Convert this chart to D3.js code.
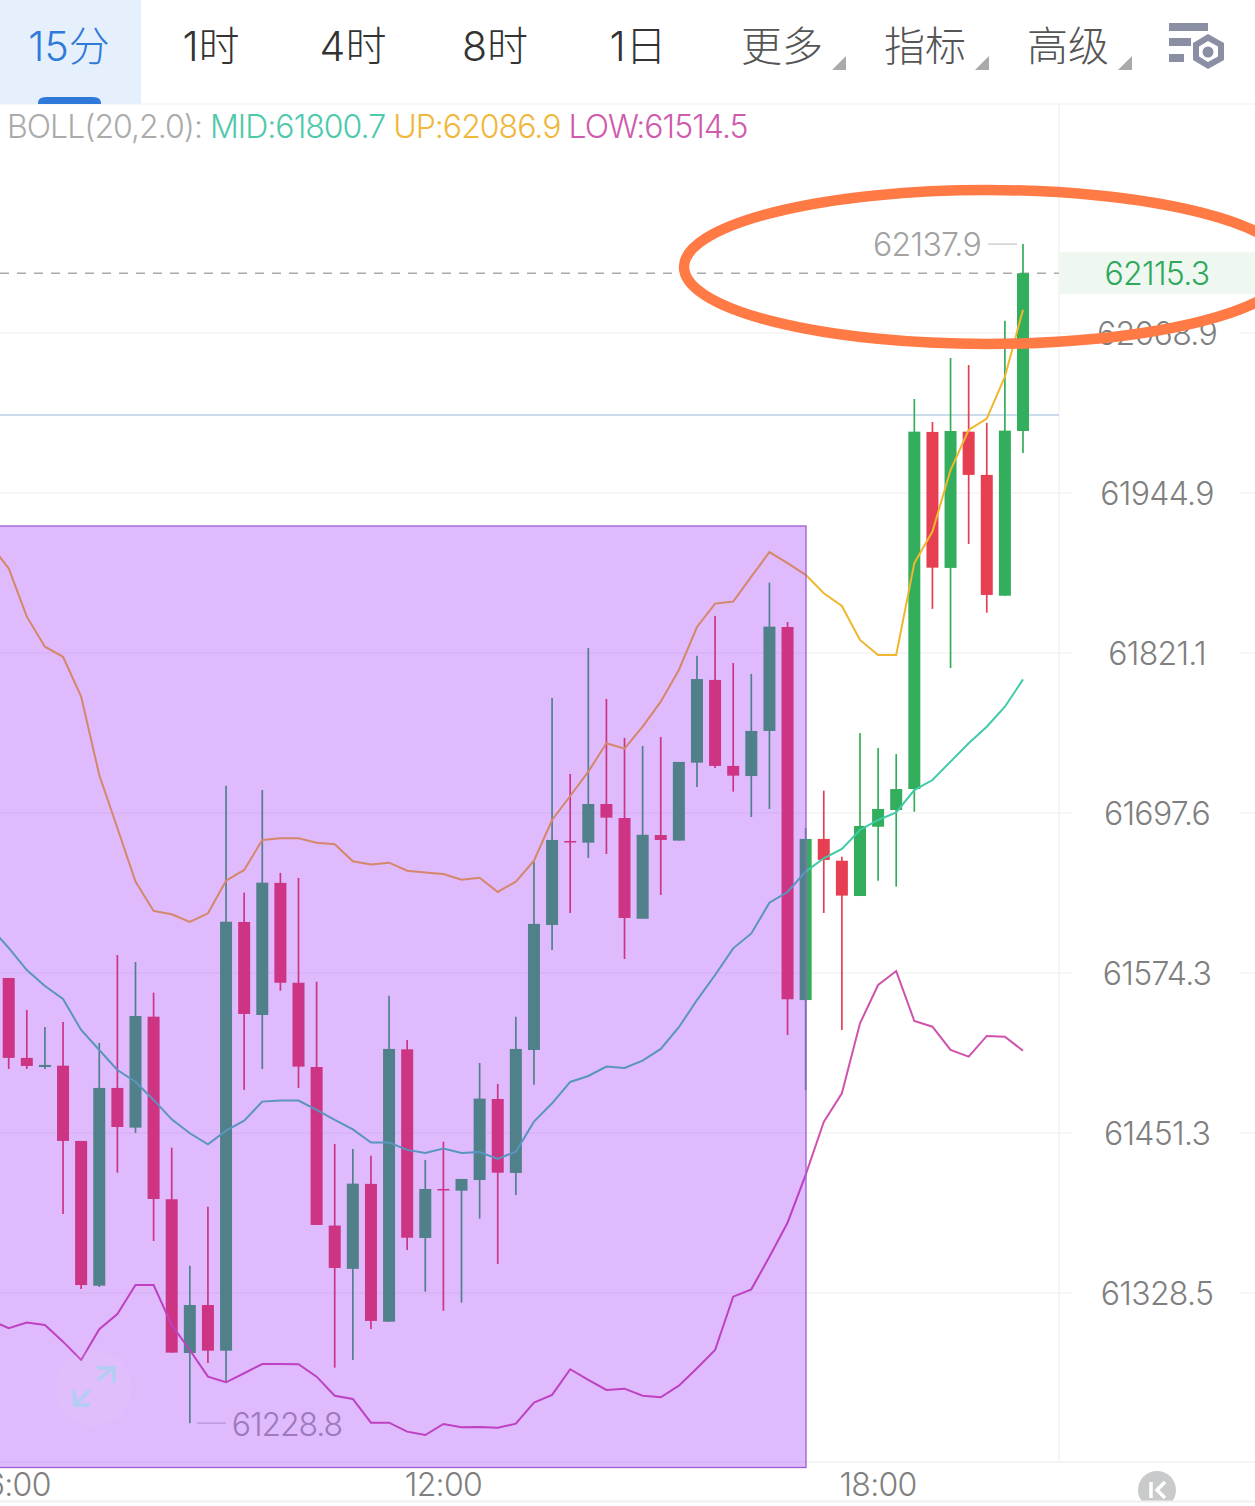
<!DOCTYPE html>
<html>
<head>
<meta charset="utf-8">
<script src="https://cdn.jsdelivr.net/npm/d3@7/dist/d3.min.js"></script>
<style>
html,body{margin:0;padding:0;background:#fff;overflow:hidden}
svg{display:block}
text{font-family:Inter,"Noto Sans CJK SC",sans-serif;font-weight:300}
</style>
</head>
<body>
<svg id="chart" width="1255" height="1506"></svg>
<script>
// BTC 15-minute candles, first candle at 06:00
const opens=[61570.5,61509.0,61502.0,61503.0,61445.2,61334.1,61485.9,61455.4,61540.7,61400.4,61282.5,61319.3,61284.3,61613.6,61542.0,61643.7,61566.8,61502.0,61380.2,61347.0,61412.2,61306.5,61515.6,61370.7,61408.3,61407.0,61415.2,61477.4,61420.6,61515.1,61611.3,61676.0,61674.7,61704.5,61693.7,61616.1,61680.6,61676.3,61736.4,61800.3,61733.9,61726.1,61760.9,61841.2,61553.5,61677.6,61660.8,61633.6,61687.0,61699.9,61716.1,61992.2,61886.9,61992.4,61958.9,61865.4,61992.9];
const highs=[61570.5,61545.9,61532.8,61536.6,61445.2,61520.5,61588.2,61582.8,61559.2,61440.0,61349.4,61394.7,61718.7,61636.2,61715.3,61651.4,61647.5,61567.6,61442.9,61439.0,61433.9,61556.8,61522.8,61430.6,61444.6,61416.0,61505.1,61489.0,61540.7,61660.1,61786.4,61727.7,61825.0,61785.6,61755.5,61749.3,61756.3,61737.0,61819.0,61849.7,61813.4,61804.9,61875.5,61845.1,61686.0,61714.8,61663.9,61759.3,61747.8,61743.1,62017.8,61999.9,62049.5,62044.1,61999.2,62078.4,62137.9];
const lows=[61500.5,61500.5,61500.5,61389.1,61331.6,61333.1,61420.8,61451.3,61368.4,61282.8,61228.8,61274.9,61260.6,61484.4,61500.5,61560.7,61485.9,61380.7,61271.3,61277.2,61300.9,61306.5,61361.5,61329.5,61314.9,61321.1,61385.5,61350.8,61403.7,61488.4,61592.0,61620.5,61662.9,61666.0,61585.1,61616.1,61634.4,61676.3,61717.7,61732.3,61714.0,61694.5,61700.7,61526.6,61484.4,61620.5,61530.5,61633.6,61645.4,61640.8,61698.6,61855.2,61809.5,61905.4,61852.3,61865.4,61975.9];
const closes=[61509.0,61502.8,61503.6,61445.2,61334.6,61485.9,61455.9,61541.2,61400.6,61282.8,61319.3,61284.3,61613.8,61542.8,61643.9,61566.8,61502.3,61380.7,61347.7,61412.4,61307.1,61515.9,61370.9,61408.3,61407.2,61416.0,61477.7,61420.8,61515.9,61612.1,61676.8,61674.9,61704.5,61694.0,61616.7,61680.8,61676.8,61737.0,61801.0,61733.9,61726.4,61760.9,61841.5,61554.1,61677.6,61661.4,61633.9,61687.6,61700.7,61716.1,61992.4,61887.1,61992.9,61958.9,61866.0,61993.2,62115.3];

// Bollinger bands start one candle before the first visible one
const bollStart=-1;
const bollUp=[61904.7,61886.6,61849.2,61826.0,61818.2,61787.4,61726.9,61686.0,61644.7,61622.1,61619.5,61613.6,61620.3,61645.4,61653.7,61676.8,61678.1,61678.1,61674.7,61673.5,61660.4,61657.8,61659.3,61653.1,61651.8,61650.6,61646.2,61647.7,61636.7,61644.7,61660.8,61692.2,61710.7,61729.5,61751.4,61747.2,61764.2,61783.5,61808.0,61841.2,61859.3,61860.9,61880.2,61899.1,61890.6,61881.5,61867.3,61857.5,61831.2,61819.6,61819.6,61890.6,61915.0,61962.7,61993.7,62002.5,62035.0,62086.9];
const bollMid=[61609.0,61593.6,61576.6,61564.3,61554.3,61530.5,61515.1,61499.7,61490.7,61476.7,61461.8,61451.1,61442.6,61453.1,61460.8,61475.4,61476.2,61476.2,61469.0,61461.3,61454.1,61443.9,61443.9,61438.3,61436.0,61439.3,61436.0,61436.7,61431.4,61437.0,61460.0,61474.1,61490.5,61495.1,61502.3,61501.3,61506.9,61515.9,61532.6,61553.5,61572.8,61593.3,61604.8,61628.4,61636.7,61652.4,61662.7,61669.9,61684.5,61692.2,61698.1,61715.3,61723.0,61737.2,61751.4,61764.2,61779.6,61800.7];
const bollLow=[61307.8,61301.5,61305.8,61304.0,61291.2,61277.2,61300.7,61312.4,61334.6,61334.6,61304.0,61284.8,61264.4,61260.1,61267.0,61274.1,61274.1,61273.9,61264.4,61249.8,61247.3,61229.2,61229.2,61222.3,61219.7,61228.2,61225.6,61225.9,61225.3,61228.4,61244.5,61250.4,61270.1,61261.9,61254.2,61255.2,61249.8,61248.6,61257.5,61270.8,61284.8,61325.7,61331.3,61356.3,61382.4,61419.1,61459.8,61481.8,61535.6,61565.1,61575.8,61537.4,61533.0,61515.1,61510.0,61525.9,61525.3,61514.5];

const priceTicks=[62068.9,61944.9,61821.1,61697.6,61574.3,61451.3,61328.5];
const timeTicks=[{i:0,label:"06:00"},{i:24,label:"12:00"},{i:48,label:"18:00"}];
const tabs=["15分","1时","4时","8时","1日","更多","指标","高级"];
const lastPrice=62115.3, highLabel=62137.9, lowLabel=61228.8, alertPrice=62005.4;

const svg=d3.select("#chart");
const W=1255, plotRight=1059, plotTop=104, plotBottom=1462;
const RED="#e63f52", GREEN="#33ae5c";
const NUM_SIZE=32, NUM_SPACING=-0.7;

const x=d3.scaleLinear().domain([0,56]).range([8.7,1023]);
const y=d3.scaleLog().domain([61328.5,62068.9]).range([1293,333]);

// Price grid, interrupted behind the axis labels
const grid=svg.append("g").attr("stroke","#f4f4f4").attr("stroke-width",1.5);
grid.selectAll("line.a").data(priceTicks).join("line").attr("x1",0).attr("x2",1072).attr("y1",d=>y(d)).attr("y2",d=>y(d));
grid.selectAll("line.b").data(priceTicks).join("line").attr("x1",1240).attr("x2",W).attr("y1",d=>y(d)).attr("y2",d=>y(d));
svg.append("line").attr("x1",plotRight).attr("x2",plotRight).attr("y1",plotTop).attr("y2",plotBottom).attr("stroke","#f2f2f2").attr("stroke-width",1.5);
svg.append("line").attr("x1",0).attr("x2",W).attr("y1",plotTop).attr("y2",plotTop).attr("stroke","#f4f4f4").attr("stroke-width",1.5);
svg.append("line").attr("x1",0).attr("x2",W).attr("y1",plotBottom).attr("y2",plotBottom).attr("stroke","#f2f2f2").attr("stroke-width",1.5);

// Price axis labels
svg.append("g").selectAll("text").data(priceTicks).join("text")
  .attr("x",1157).attr("y",d=>y(d)+12).attr("text-anchor","middle")
  .attr("font-size",NUM_SIZE).attr("letter-spacing",NUM_SPACING).attr("fill","#7f7f7f").text(d=>d.toFixed(1));

// Time axis labels
svg.append("g").selectAll("text").data(timeTicks).join("text")
  .attr("x",d=>x(d.i)).attr("y",1496).attr("text-anchor","middle")
  .attr("font-size",NUM_SIZE).attr("letter-spacing",NUM_SPACING).attr("fill","#7f7f7f").text(d=>d.label);

// Reference lines: alert level and latest price
svg.append("line").attr("x1",0).attr("x2",plotRight).attr("y1",y(alertPrice)).attr("y2",y(alertPrice)).attr("stroke","#b9cfe6").attr("stroke-width",1.5);
svg.append("line").attr("x1",0).attr("x2",plotRight).attr("y1",y(lastPrice)).attr("y2",y(lastPrice)).attr("stroke","#a9a9a9").attr("stroke-width",1.5).attr("stroke-dasharray","9 8");
svg.append("rect").attr("x",plotRight).attr("width",W-plotRight).attr("y",y(lastPrice)-21).attr("height",42).attr("fill","#eef8f1");
svg.append("text").attr("x",1157).attr("y",y(lastPrice)+12).attr("text-anchor","middle").attr("font-size",NUM_SIZE).attr("letter-spacing",NUM_SPACING).attr("fill","#2fa85a").text(lastPrice.toFixed(1));

// Candles
const candles=opens.map((o,i)=>({i,o,h:highs[i],l:lows[i],c:closes[i]}));
const cg=svg.append("g");
cg.selectAll("line").data(candles).join("line")
  .attr("x1",d=>x(d.i)).attr("x2",d=>x(d.i)).attr("y1",d=>y(d.h)).attr("y2",d=>y(d.l))
  .attr("stroke",d=>d.c>=d.o?GREEN:RED).attr("stroke-width",1.7);
cg.selectAll("rect").data(candles).join("rect")
  .attr("x",d=>x(d.i)-6).attr("width",12)
  .attr("y",d=>y(Math.max(d.o,d.c))).attr("height",d=>Math.max(1.5,y(Math.min(d.o,d.c))-y(Math.max(d.o,d.c))))
  .attr("fill",d=>d.c>=d.o?GREEN:RED);

// Bollinger bands
const bandLine=d3.line().x((d,j)=>x(j+bollStart)).y(d=>y(d));
[[bollUp,"#f0b62e"],[bollMid,"#3fcaa8"],[bollLow,"#cf52ac"]].forEach(([vals,color])=>{
  svg.append("path").attr("d",bandLine(vals)).attr("fill","none").attr("stroke",color).attr("stroke-width",2);
});

// High and low markers
const hi=candles[56], lo=candles[10];
svg.append("line").attr("x1",x(hi.i)-35).attr("x2",x(hi.i)-6).attr("y1",y(hi.h)).attr("y2",y(hi.h)).attr("stroke","#cfcfcf").attr("stroke-width",1.5);
svg.append("text").attr("x",x(hi.i)-42).attr("y",y(hi.h)+12).attr("text-anchor","end").attr("font-size",NUM_SIZE).attr("letter-spacing",NUM_SPACING).attr("fill","#a2a2a2").text(highLabel.toFixed(1));
svg.append("line").attr("x1",x(lo.i)+7).attr("x2",x(lo.i)+36).attr("y1",y(lo.l)).attr("y2",y(lo.l)).attr("stroke","#cfcfcf").attr("stroke-width",1.5);
svg.append("text").attr("x",x(lo.i)+42).attr("y",y(lo.l)+13).attr("font-size",NUM_SIZE).attr("letter-spacing",-1.1).attr("fill","#a2a2a2").text(lowLabel.toFixed(1));

// Highlighted selection over the earlier candles
svg.append("rect").attr("x",-2).attr("y",526).attr("width",808).attr("height",941.5)
  .attr("fill","rgb(148,28,245)").attr("fill-opacity",0.3).attr("stroke","#9a5ed2").attr("stroke-width",1.3);

// Fullscreen button
const fs=svg.append("g").attr("transform","translate(93,1388)");
fs.append("circle").attr("r",38).attr("fill","#efe0ff").attr("opacity",0.1);
fs.append("path").attr("d","M5,-8 L20,-20 M4,-20 H21 V-5 M-3,2 L-18,17 M-19,2 L-18,17 H-3")
  .attr("fill","none").attr("stroke","#a9d0f0").attr("stroke-width",4).attr("opacity",0.75);

// Toolbar
svg.append("rect").attr("x",0).attr("y",0).attr("width",141).attr("height",104).attr("fill","#e6f0fd");
svg.append("path").attr("d","M38,104 V103 Q38,97 46,97 H93 Q101,97 101,103 V104 Z").attr("fill","#2f7ad9");
const tabX=[69,211,353,495,638,782,925,1068];
const tabColor=["#2f7ad9","#333","#333","#333","#333","#555","#555","#555"];
svg.append("g").selectAll("text").data(tabs).join("text")
  .attr("x",(d,i)=>tabX[i]).attr("y",61).attr("text-anchor","middle").attr("font-size",41)
  .attr("fill",(d,i)=>tabColor[i]).text(d=>d);
svg.append("g").selectAll("path").data([846,989,1132]).join("path")
  .attr("d",d=>`M${d},56 V70 H${d-14} Z`).attr("fill","#aaa");

// Chart settings icon
const icon=svg.append("g").attr("fill","#8a8fa3");
icon.append("rect").attr("x",1169).attr("y",23).attr("width",39).attr("height",8);
icon.append("rect").attr("x",1169).attr("y",38).attr("width",22).attr("height",8);
icon.append("rect").attr("x",1169).attr("y",54).attr("width",15).attr("height",8);
icon.append("path").attr("d","M1208,34 L1224,43 V60 L1208,69 L1193,60 V43 Z M1208,41 L1199,46.5 V56.5 L1208,62 L1218,56.5 V46.5 Z").attr("fill-rule","evenodd");
icon.append("circle").attr("cx",1208).attr("cy",52).attr("r",5.5);

// Indicator legend
const legend=svg.append("text").attr("x",7).attr("y",138).attr("font-size",NUM_SIZE).attr("letter-spacing",-0.98);
[["BOLL(20,2.0): ","#ababab"],["MID:61800.7 ","#4fc9ab"],["UP:62086.9 ","#f0b73c"],["LOW:61514.5","#d05aae"]].forEach(([t,c])=>{
  legend.append("tspan").attr("fill",c).attr("xml:space","preserve").text(t);
});

// Collapse button in the bottom corner, cut off by the footer rule
const kb=svg.append("g").attr("transform","translate(1157,1490)");
kb.append("circle").attr("r",19).attr("fill","#c9cacc");
kb.append("path").attr("d","M-6,-8 V8 M8,-8 L0,0 L8,8").attr("fill","none").attr("stroke","#fff").attr("stroke-width",3.5);
svg.append("rect").attr("x",0).attr("y",1502).attr("width",W).attr("height",4).attr("fill","#fff");
svg.append("line").attr("x1",0).attr("x2",W).attr("y1",1501.5).attr("y2",1501.5).attr("stroke","#efefef").attr("stroke-width",2);

// Hand-drawn ring around the latest price
svg.append("ellipse").attr("cx",987).attr("cy",267).attr("rx",303).attr("ry",77)
  .attr("fill","none").attr("stroke","#ff7a45").attr("stroke-width",10.5);
</script>
</body>
</html>
